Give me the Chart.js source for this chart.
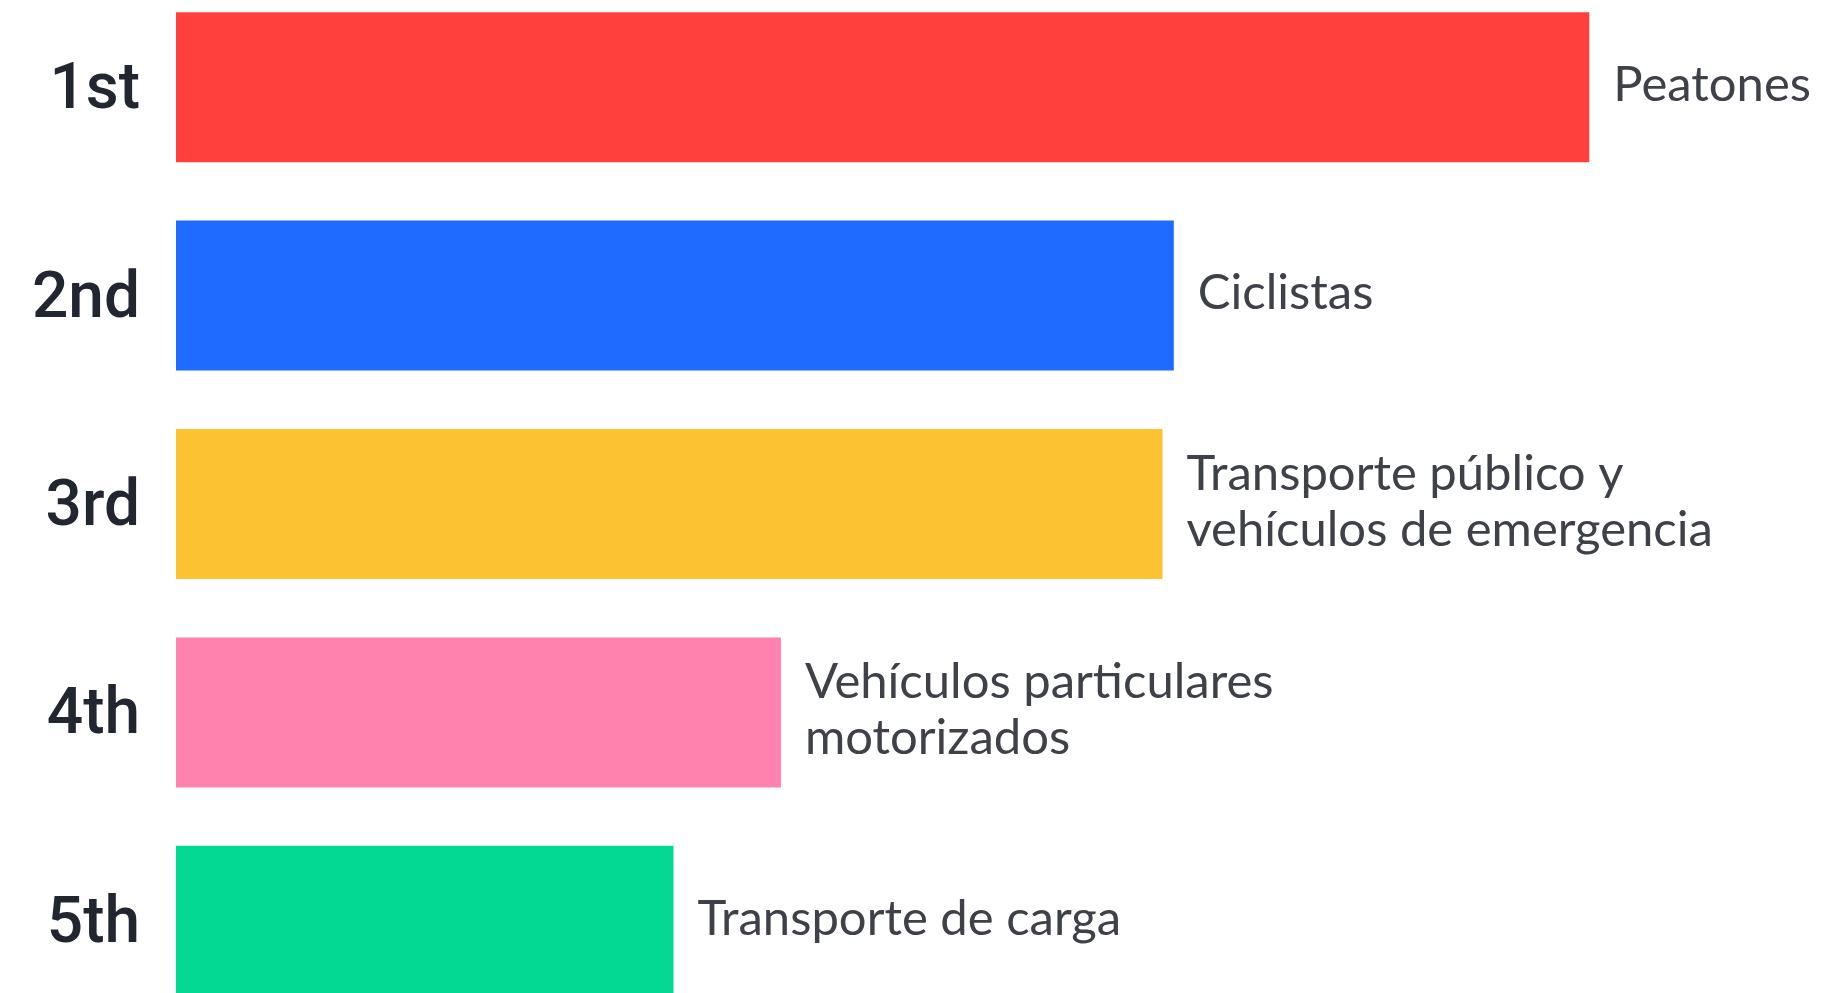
<!DOCTYPE html>
<html>
<head>
<meta charset="utf-8">
<script src="https://cdn.jsdelivr.net/npm/chart.js@4/dist/chart.umd.min.js"></script>
<style>
  html, body { margin: 0; padding: 0; background: #fff; overflow: hidden; }
  body { width: 1831px; height: 993px; position: relative; }
  #wrap { position: absolute; left: 0; top: -17px; width: 1831px; height: 1042px; }
</style>
</head>
<body>
<div id="wrap"><canvas id="rankChart"></canvas></div>
<script>
// ranking of road users (relative bar length, 1st = 100)
const ranks = ['1st', '2nd', '3rd', '4th', '5th'];
const groups = [
  ['Peatones'],
  ['Ciclistas'],
  ['Transporte público y', 'vehículos de emergencia'],
  ['Vehículos particulares', 'motorizados'],
  ['Transporte de carga']
];
const values = [100, 70.6, 69.8, 42.8, 35.2];
const colors = ['#FF403D', '#1F6BFF', '#FCC232', '#FF82AE', '#03D992'];

// draws the group name just past the end of each bar
const endLabels = {
  id: 'endLabels',
  afterDatasetsDraw(chart) {
    const ctx = chart.ctx;
    const meta = chart.getDatasetMeta(0);
    ctx.save();
    ctx.font = '49px Lato';
    ctx.fillStyle = '#3e4148';
    ctx.textAlign = 'left';
    ctx.textBaseline = 'middle';
    meta.data.forEach((bar, i) => {
      const lines = groups[i];
      const lh = 56;
      const y0 = bar.y - 2 - (lines.length - 1) * lh / 2;
      lines.forEach((t, j) => ctx.fillText(t, bar.x + 24, y0 + j * lh));
    });
    ctx.restore();
  }
};

new Chart(document.getElementById('rankChart'), {
  type: 'bar',
  data: {
    labels: ranks,
    datasets: [{
      data: values,
      backgroundColor: colors,
      borderWidth: 0,
      categoryPercentage: 1,
      barPercentage: 0.72
    }]
  },
  options: {
    indexAxis: 'y',
    responsive: true,
    maintainAspectRatio: false,
    animation: false,
    layout: { padding: 0 },
    plugins: { legend: { display: false }, tooltip: { enabled: false } },
    scales: {
      x: { display: false, min: 0, max: 117.1 },
      y: {
        grid: { display: false, drawTicks: false },
        border: { display: false },
        afterFit(scale) {
          scale.width = 176;
          scale.paddingTop = 0;
          scale.paddingBottom = 0;
        },
        ticks: {
          padding: 36,
          labelOffset: 5,
          color: '#222630',
          font: { family: 'Roboto', size: 64, weight: '500' }
        }
      }
    }
  },
  plugins: [endLabels]
});
</script>
</body>
</html>
